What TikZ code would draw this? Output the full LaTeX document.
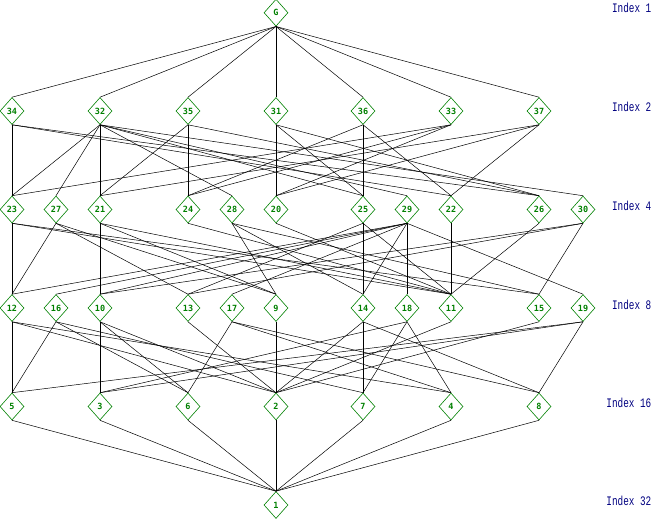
\documentclass[tikz,border=0pt]{standalone}
\usepackage{fontspec}
\newfontfamily\lblfont{DejaVu Sans Mono}
\newfontfamily\idxfont{Liberation Mono}
\usetikzlibrary{shapes.geometric}
\definecolor{nodegreen}{RGB}{0,128,0}
\definecolor{idxblue}{RGB}{0,0,128}
\begin{document}
\begin{tikzpicture}[x=1pt,y=-1pt,
  sg/.style={diamond, draw=nodegreen, text=nodegreen, line width=0.6pt,
    minimum width=24pt, minimum height=27pt, inner sep=0pt,
    font=\lblfont\bfseries\fontsize{8.5}{8.5}\selectfont},
  ln/.style={line width=0.5pt, black},
  idx/.style={anchor=east, text=idxblue, inner sep=0pt,
    font=\idxfont\fontsize{13}{13}\selectfont, xscale=0.72, transform shape}]
\useasboundingbox (0,0) rectangle (652,519);
% rows
\def\ya{12.7}\def\yb{111}\def\yc{209.5}\def\yd{308}\def\ye{406.5}\def\yf{505}
\node[sg] (nG) at (276,\ya) {G};
\foreach \n/\x in {34/12,32/100,35/188,31/276,36/363,33/451,37/539}
  \node[sg] (n\n) at (\x,\yb) {\n};
\foreach \n/\x in {23/12,27/56,21/100,24/188,28/232,20/276,25/363,29/407,22/451,26/539,30/583}
  \node[sg] (n\n) at (\x,\yc) {\n};
\foreach \n/\x in {12/12,16/56,10/100,13/188,17/232,9/276,14/363,18/407,11/451,15/539,19/583}
  \node[sg] (n\n) at (\x,\yd) {\n};
\foreach \n/\x in {5/12,3/100,6/188,2/276,7/363,4/451,8/539}
  \node[sg] (n\n) at (\x,\ye) {\n};
\node[sg] (n1) at (276,\yf) {1};
% index labels
\node[idx] (i1) at (651.5,8.3) {Index 1};
\node[idx] (i2) at (651.5,107.3) {Index 2};
\node[idx] (i4) at (651.5,206) {Index 4};
\node[idx] (i8) at (651.5,304.7) {Index 8};
\node[idx] (i16) at (651.5,403) {Index 16};
\node[idx] (i32) at (651.5,501) {Index 32};
% edges
\foreach \a/\b in {G/34,G/32,G/35,G/31,G/36,G/33,G/37,
  32/29,32/23,32/21,32/25,32/27,32/28,32/30,
  34/23,34/22,34/26, 33/23,33/20,33/24, 35/21,35/24,35/26,
  37/21,37/20,37/22, 31/25,31/20,31/26, 36/25,36/22,36/24,
  29/12,29/16,29/10,29/17,29/14,29/18,29/19,
  20/11,24/11,22/11,26/11, 23/11,23/12,23/15, 21/11,21/10,21/9,
  25/11,25/14,25/13, 27/12,27/9,27/13, 28/14,28/9,28/15, 30/10,30/13,30/15,
  9/2,13/2,11/2,15/2, 12/2,12/5,12/4, 10/2,10/3,10/6, 14/2,14/7,14/8,
  16/5,16/6,16/7, 17/4,17/6,17/8, 18/4,18/3,18/7, 19/5,19/3,19/8,
  5/1,3/1,6/1,2/1,7/1,4/1,8/1}
  \draw[ln] (n\a.south) -- (n\b.north);
\end{tikzpicture}
\end{document}
